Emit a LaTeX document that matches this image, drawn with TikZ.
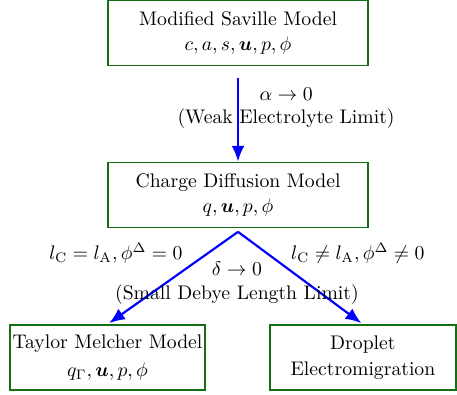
\documentclass[tikz,border=0pt]{standalone}
\usepackage{amsmath,amssymb,bm}
\usetikzlibrary{arrows.meta}
\definecolor{boxgreen}{RGB}{20,110,20}
\begin{document}
\begin{tikzpicture}[line width=0.5pt,
  model/.style={draw=boxgreen, line width=0.8pt, align=center, inner xsep=1pt,
    minimum height=1.16cm},
  limit/.style={draw=blue, line width=1.1pt, -{Latex[length=8pt,width=6.5pt]}},
  every node/.style={font=\normalsize}]
  \useasboundingbox (0,0) rectangle (8.16,-7.05);
  \node[model, minimum width=4.64cm] (msm) at (4.25,-0.59)
    {Modified Saville Model\\[1pt] $c,a,s,\bm{u},p,\phi$};
  \node[model, minimum width=4.64cm] (cdm) at (4.25,-3.48)
    {Charge Diffusion Model\\[1pt] $q,\bm{u},p,\phi$};
  \node[model, minimum width=3.48cm] (tmm) at (1.92,-6.385)
    {Taylor Melcher Model\\[2pt] $q_{\Gamma},\bm{u},p,\phi$};
  \node[model, minimum width=3.32cm] (dem) at (6.48,-6.385)
    {Droplet\\[1pt] Electromigration};
  \coordinate (top) at (4.25,-1.393);
  \coordinate (split) at (4.25,-4.14);
  % limits
  \draw[limit] (top) -- (cdm.north);
  \draw[limit, shorten >=1pt] (split) -- (tmm.north);
  \draw[limit, shorten >=1pt] (split) -- (dem.north);
  \node[align=center, inner sep=0pt] (weak) at (5.108,-1.93)
    {$\alpha\to0$\\ (Weak Electrolyte Limit)};
  \node[inner sep=0pt] (eq) at (2.07,-4.52) {$l_{\mathrm{C}}=l_{\mathrm{A}},\phi^{\Delta}=0$};
  \node[inner sep=0pt] (neq) at (6.39,-4.52) {$l_{\mathrm{C}}\neq l_{\mathrm{A}},\phi^{\Delta}\neq0$};
  \node[align=center, inner sep=0pt] (debye) at (4.23,-5.05)
    {$\delta\to0$\\ (Small Debye Length Limit)};
\end{tikzpicture}
\end{document}
